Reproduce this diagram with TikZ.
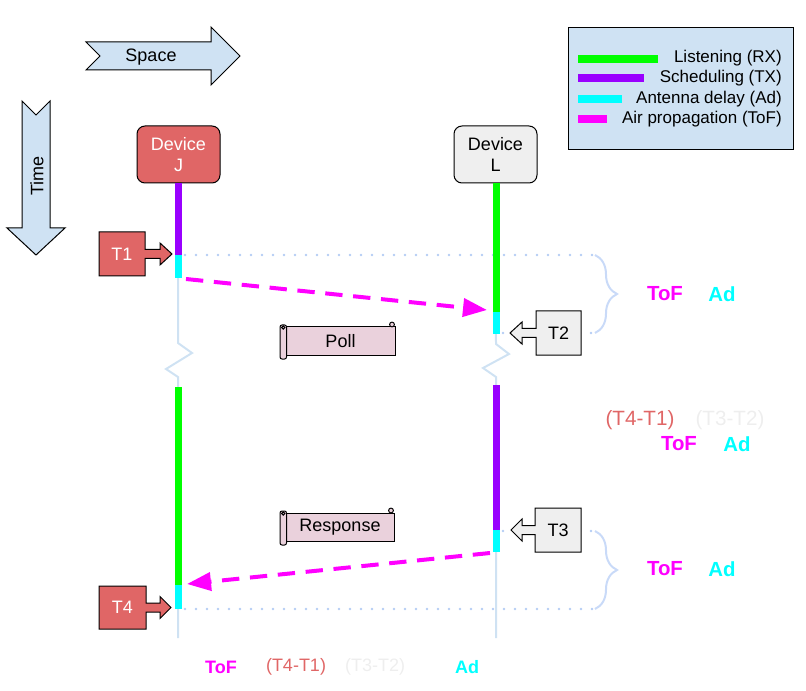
\documentclass[tikz,border=0pt]{standalone}
\usepackage{fontspec}
\setmainfont{Liberation Sans}
\usetikzlibrary{calc,decorations.pathreplacing,arrows.meta}
\definecolor{cgreen}{HTML}{00FF00}
\definecolor{cpurple}{HTML}{9900FF}
\definecolor{ccyan}{HTML}{00FFFF}
\definecolor{cmag}{HTML}{FF00FF}
\definecolor{cred}{HTML}{E06666}
\definecolor{cgray}{HTML}{EFEFEF}
\definecolor{cpink}{HTML}{EAD1DC}
\definecolor{cblue}{HTML}{CFE2F3}
\definecolor{cline}{HTML}{C9DAF8}
\definecolor{cdot}{HTML}{B4CCF4}
\definecolor{clight}{HTML}{EEEEEE}
\tikzset{
  txt/.style={font=\fontsize{13.5}{15.75}\selectfont, inner sep=0pt, align=center},
  legtxt/.style={font=\fontsize{12.75}{15}\selectfont, inner sep=0pt, anchor=east},
  bigb/.style={font=\fontsize{15.3}{18}\selectfont\bfseries, inner sep=0pt},
  bigr/.style={font=\fontsize{15.5}{18}\selectfont, inner sep=0pt},
  smallb/.style={font=\fontsize{13.5}{16}\selectfont\bfseries, inner sep=0pt},
  smallr/.style={font=\fontsize{13.5}{16}\selectfont, inner sep=0pt},
  arrowshape/.style={draw=black, fill=cblue, line width=0.75pt, line join=miter},
  device/.style={draw=black, line width=0.75pt, rounded corners=6pt, minimum width=62.25pt,
    minimum height=42.75pt, inner sep=0pt, align=center, font=\fontsize{13.5}{15.75}\selectfont},
  life/.style={draw=cblue, line width=1.5pt},
  seg/.style={line width=5.25pt, line cap=butt},
  legline/.style={line width=6pt, line cap=butt},
  dotline/.style={draw=cdot, line width=2pt, line cap=round, dash pattern=on 0pt off 8.25pt},
  bracestyle/.style={draw=cline, line width=1.5pt, decorate,
    decoration={brace, amplitude=16.5pt, aspect=0.5}},
  tbox/.style={draw=black, line width=0.75pt, line join=miter},
  msg/.style={draw=cmag, line width=3pt, dash pattern=on 13pt off 8pt,
    -{Triangle[length=18pt,width=13.5pt,fill=cmag]}},
  scrollbody/.style={draw=black, fill=cpink, line width=0.75pt, minimum width=81.75pt,
    minimum height=21pt, inner sep=0pt, font=\fontsize{13.5}{16}\selectfont},
  scrollpart/.style={draw=black, fill=cpink, line width=0.75pt},
}
\begin{document}
\begin{tikzpicture}[x=0.75pt,y=-0.75pt]
\useasboundingbox (0,0) rectangle (806,691);

% Space and Time arrows
\draw[arrowshape] (86,42) -- (211,42) -- (211,27) -- (240,56) -- (211,85) -- (211,70) -- (86,70) -- (100,56) -- cycle;
\node[txt] (space) at (151,57) {Space};
\draw[arrowshape] (22,101) -- (36,115) -- (50,101) -- (50,228) -- (65,228) -- (36,255) -- (7,228) -- (22,228) -- cycle;
\node[txt, rotate=90] (time) at (37,176) {Time};

% Legend
\node[draw=black, fill=cblue, line width=0.75pt, minimum width=168.75pt, minimum height=91.5pt,
  anchor=north west, inner sep=0pt] (legend) at (568,27) {};
\draw[legline, cgreen] (578,59) -- (658,59);
\draw[legline, cpurple] (578,78) -- (644,78);
\draw[legline, ccyan] (578,99) -- (622,99);
\draw[legline, cmag] (578,119) -- (607,119);
\node[legtxt] (lg1) at (782,58) {Listening (RX)};
\node[legtxt] (lg2) at (782,78) {Scheduling (TX)};
\node[legtxt] (lg3) at (782,99) {Antenna delay (Ad)};
\node[legtxt] (lg4) at (782,119) {Air propagation (ToF)};

% Devices
\node[device, fill=cred, text=white] (devJ) at (178.5,154.5) {Device\\J};
\node[device, fill=cgray] (devL) at (495.5,154.5) {Device\\L};

% Dotted guide lines and braces
\coordinate (b1t) at (595,255);
\coordinate (b1b) at (595,333);
\coordinate (b2t) at (595,531);
\coordinate (b2b) at (595,609);
\draw[dotline] (185,255) -- (b1t);
\draw[dotline] (503,333) -- (b1b);
\draw[dotline] (503,531) -- (b2t);
\draw[dotline] (185,609) -- (b2b);
\draw[bracestyle] (b1t) -- (b1b);
\draw[bracestyle] (b2t) -- (b2b);

% Lifelines
\draw[life] (devJ.south) -- (178,343) -- (192,353) -- (166,369) -- (178,377) -- (178,638) coordinate (Jend);
\draw[life] (devL.south) -- (496,344) -- (509,354) -- (483,368) -- (496,377) -- (496,638) coordinate (Lend);
\draw[seg, cpurple] (178,183) -- (178,255);
\draw[seg, ccyan] (178,255) -- (178,278);
\draw[seg, cgreen] (178,387) -- (178,585);
\draw[seg, ccyan] (178,585) -- (178,609);
\draw[seg, cgreen] (496,183) -- (496,312);
\draw[seg, ccyan] (496,312) -- (496,334);
\draw[seg, cpurple] (496,385) -- (496,530);
\draw[seg, ccyan] (496,530) -- (496,552);

% Messages
\coordinate (pollA) at (186,279);
\coordinate (pollB) at (487,310);
\coordinate (respA) at (490,553);
\coordinate (respB) at (187,584);
\draw[msg] (pollA) -- (pollB);
\draw[msg] (respA) -- (respB);

% Timestamp callouts
\draw[tbox, fill=cred] (99,232) -- (145,232) -- (145,249.5) -- (160,249.5) -- (160,243) -- (172,254) -- (160,265) -- (160,258.5) -- (145,258.5) -- (145,276) -- (99,276) -- cycle;
\node[txt, text=white] (T1) at (122,254) {T1};
\draw[tbox, fill=cred] (99,586) -- (146,586) -- (146,603) -- (160,603) -- (160,596.5) -- (171,607.5) -- (160,618.5) -- (160,612) -- (146,612) -- (146,629) -- (99,629) -- cycle;
\node[txt, text=white] (T4) at (122.5,607.5) {T4};
\draw[tbox, fill=cgray] (581,311) -- (536,311) -- (536,328.5) -- (522,328.5) -- (522,322) -- (510,333) -- (522,344) -- (522,337.5) -- (536,337.5) -- (536,355) -- (581,355) -- cycle;
\node[txt] (T2) at (558.5,333) {T2};
\draw[tbox, fill=cgray] (581,508) -- (535,508) -- (535,525.5) -- (522,525.5) -- (522,519) -- (511,530) -- (522,541) -- (522,534.5) -- (535,534.5) -- (535,552) -- (581,552) -- cycle;
\node[txt] (T3) at (558,530) {T3};

% Scrolls
\node[scrollbody] (poll) at (340.5,341) {Poll};
\draw[scrollpart, rounded corners=1.5pt] (280,325) rectangle (286.5,359);
\draw[scrollpart] (283.2,327.5) circle (1.6);
\draw[scrollpart] (392,324.5) circle (2.4);
\node[scrollbody] (resp) at (340,527) {Response};
\draw[scrollpart, rounded corners=1.5pt] (280,511) rectangle (286.5,545);
\draw[scrollpart] (283.2,513.5) circle (1.6);
\draw[scrollpart] (391,510.5) circle (2.4);

% Right labels
\node[bigb, text=cmag] (tof1) at (665,294) {ToF};
\node[bigb, text=ccyan] (ad1) at (722,294) {Ad};
\node[bigr, text=cred] (d41) at (640,420) {(T4-T1)};
\node[bigr, text=clight] (d32) at (730,420) {(T3-T2)};
\node[bigb, text=cmag] (tof2) at (679,444) {ToF};
\node[bigb, text=ccyan] (ad2) at (737,444) {Ad};
\node[bigb, text=cmag] (tof3) at (665,569) {ToF};
\node[bigb, text=ccyan] (ad3) at (722,569) {Ad};

% Bottom formula
\node[smallb, text=cmag] (tof4) at (221,667) {ToF};
\node[smallr, text=cred] (d41b) at (296,667) {(T4-T1)};
\node[smallr, text=clight] (d32b) at (375,667) {(T3-T2)};
\node[smallb, text=ccyan] (ad4) at (467,667) {Ad};
\end{tikzpicture}
\end{document}
